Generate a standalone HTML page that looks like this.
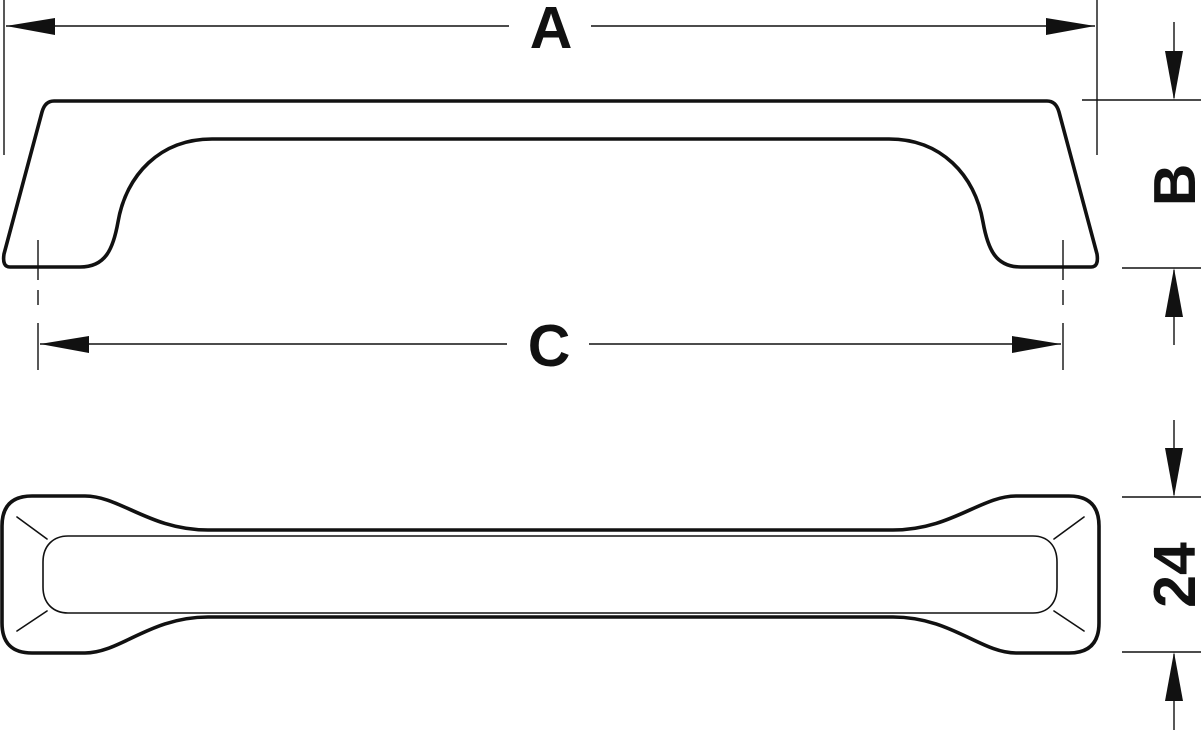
<!DOCTYPE html>
<html><head><meta charset="utf-8"><style>
html,body{margin:0;padding:0;background:#fff;}
svg{display:block;}
text{font-family:"Liberation Sans",Arial,sans-serif;font-weight:bold;fill:#111;}
</style></head><body>
<svg width="1201" height="730" viewBox="0 0 1201 730" xmlns="http://www.w3.org/2000/svg">
<g stroke="#111" fill="none" stroke-linejoin="round" stroke-linecap="round">
<!-- top view outline -->
<path stroke-width="3.6" d="M54 101 L1047 101 Q1056 101 1059 112 L1097 254 Q1099 267 1091 267 L1021 267 C996 267 988 250 983 222 C975 175 941 139 889 139 L212 139 C160 139 126 175 118 222 C113 250 105 267 80 267 L10 267 Q2 267 4 254 L42 112 Q45 101 54 101 Z"/>
<!-- bottom view outline -->
<path stroke-width="3.6" d="M32 496 L85 496 C120 496 150 530 208 530 L893 530 C951 530 981 496 1016 496 L1069 496 Q1099 496 1099 526 L1099 623 Q1099 653 1069 653 L1016 653 C981 653 951 617 893 617 L208 617 C150 617 120 653 85 653 L32 653 Q2 653 2 623 L2 526 Q2 496 32 496 Z"/>
<path stroke-width="1.6" d="M68 536 L1033 536 C1047 536 1057 545 1057 562 L1057 587 C1057 604 1047 613 1033 613 L68 613 C54 613 43 604 43 587 L43 562 C43 545 54 536 68 536 Z"/>
<path stroke-width="1.6" d="M17 517 L47 539 M17 631 L47 611 M1084 517 L1054 539 M1084 631 L1054 611"/>
</g>
<g stroke="#111" stroke-width="1.4" fill="none">
<!-- A -->
<line x1="4" y1="0" x2="4" y2="155"/>
<line x1="1097" y1="0" x2="1097" y2="155"/>
<line x1="6" y1="26" x2="509" y2="26"/>
<line x1="591" y1="26" x2="1095" y2="26"/>
<!-- C -->
<path d="M38 240 L38 280 M38 290 L38 305 M38 323 L38 370"/>
<path d="M1063 240 L1063 280 M1063 290 L1063 305 M1063 323 L1063 370"/>
<line x1="40" y1="344" x2="507" y2="344"/>
<line x1="589" y1="344" x2="1061" y2="344"/>
<!-- B -->
<line x1="1082" y1="100" x2="1201" y2="100"/>
<line x1="1122" y1="268" x2="1201" y2="268"/>
<line x1="1174" y1="22" x2="1174" y2="98"/>
<line x1="1174" y1="270" x2="1174" y2="345"/>
<!-- 24 -->
<line x1="1122" y1="497" x2="1201" y2="497"/>
<line x1="1122" y1="652" x2="1201" y2="652"/>
<line x1="1174" y1="420" x2="1174" y2="495"/>
<line x1="1174" y1="654" x2="1174" y2="730"/>
</g>
<g fill="#111">
<polygon points="6,26 55,18 55,35"/>
<polygon points="1095,26 1046,18 1046,35"/>
<polygon points="40,344 89,336 89,353"/>
<polygon points="1061,344 1012,336 1012,353"/>
<polygon points="1174,100 1165,51 1183,51"/>
<polygon points="1174,268 1165,317 1183,317"/>
<polygon points="1174,497 1165,448 1183,448"/>
<polygon points="1174,652 1165,701 1183,701"/>
</g>
<text x="551" y="48" font-size="59" text-anchor="middle">A</text>
<text x="549" y="366" font-size="59" text-anchor="middle">C</text>
<text transform="translate(1195,185) rotate(-90)" font-size="59" text-anchor="middle">B</text>
<text transform="translate(1195,575) rotate(-90)" font-size="59" text-anchor="middle">24</text>
</svg>
</body></html>
